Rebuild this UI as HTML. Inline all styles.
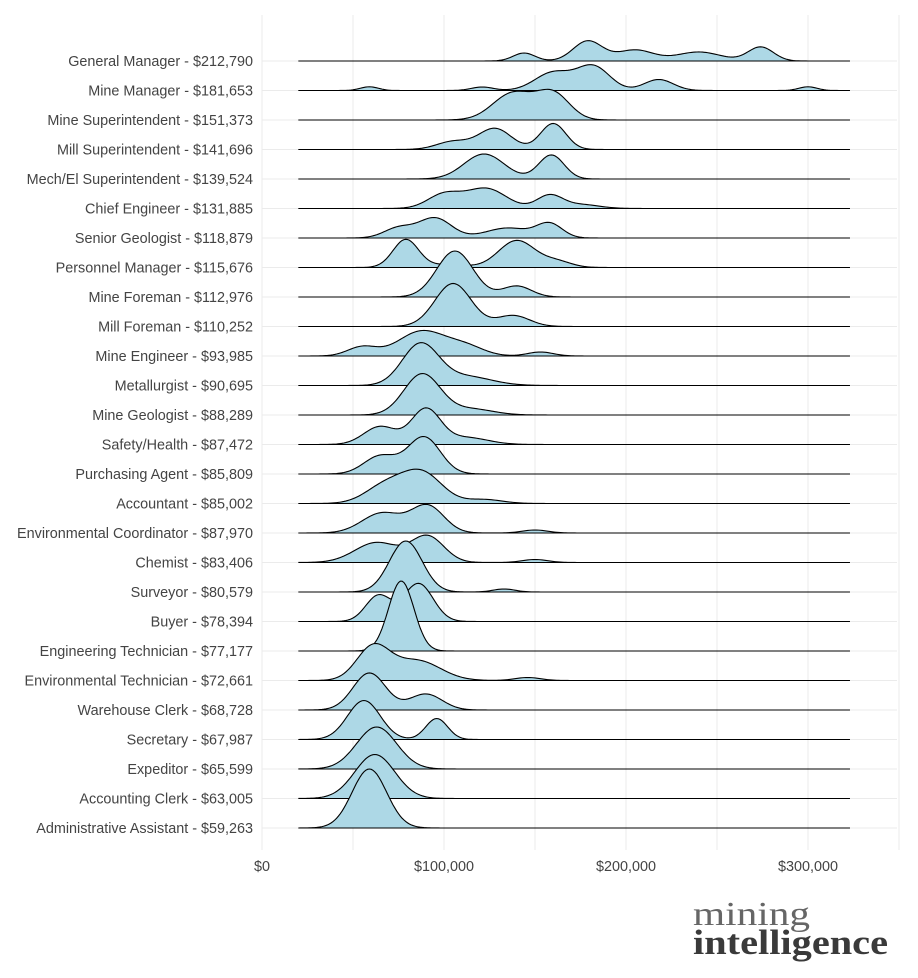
<!DOCTYPE html>
<html><head><meta charset="utf-8"><style>
html,body{margin:0;padding:0;background:#fff;}
svg{display:block;font-family:"Liberation Sans",sans-serif;}
</style></head><body>
<svg id="chart" width="918" height="978" viewBox="0 0 918 978" xmlns="http://www.w3.org/2000/svg">
<g id="grid"></g>
<g id="ridges"></g>
<g id="ylabels"></g>
<g id="xlabels"></g>
<g>
<text x="693" y="925" font-family="'Liberation Serif',serif" font-size="34" fill="#666" textLength="117" lengthAdjust="spacingAndGlyphs">mining</text>
<text x="693" y="954" font-family="'Liberation Serif',serif" font-weight="bold" font-size="35" fill="#3a3a3a" textLength="195" lengthAdjust="spacingAndGlyphs">intelligence</text>
</g>
</svg>
<script>
// Categories (top to bottom)
const categories = ["General Manager - $212,790","Mine Manager - $181,653","Mine Superintendent - $151,373","Mill Superintendent - $141,696","Mech/El Superintendent - $139,524","Chief Engineer - $131,885","Senior Geologist - $118,879","Personnel Manager - $115,676","Mine Foreman - $112,976","Mill Foreman - $110,252","Mine Engineer - $93,985","Metallurgist - $90,695","Mine Geologist - $88,289","Safety/Health - $87,472","Purchasing Agent - $85,809","Accountant - $85,002","Environmental Coordinator - $87,970","Chemist - $83,406","Surveyor - $80,579","Buyer - $78,394","Engineering Technician - $77,177","Environmental Technician - $72,661","Warehouse Clerk - $68,728","Secretary - $67,987","Expeditor - $65,599","Accounting Clerk - $63,005","Administrative Assistant - $59,263"];
// Density components per category: [mean salary in $k, spread in $k, density height]
const densityComponents = [
 [[144,6,8],[179,8,20],[205,10,11],[240,12,9],[274,7,14]],
 [[59,5,3.7],[121,6,3.5],[160,10,18],[182,9,24],[218,8,11],[300,5,3.7]],
 [[138,11,27],[160,9,26]],
 [[105,9,8],[128,9,21],[160,7,26]],
 [[122,11,25],[159,7,24]],
 [[100,9,14],[123,11,20],[158,7,13],[175,10,4]],
 [[75,8,10],[95,9,20],[135,12,10],[158,7,14]],
 [[79,7,28],[102,10,3],[140,10,27],[162,8,6]],
 [[106,10,46],[140,8,11]],
 [[105,10,43],[138,9,11]],
 [[55,8,9],[88,13,25],[112,10,9],[153,7,4]],
 [[87,10,41],[112,14,9]],
 [[88,10,41],[115,12,6]],
 [[65,9,18],[90,8,35],[112,12,7]],
 [[65,9,18],[89,9,37]],
 [[68,11,18],[88,11,30],[122,10,4]],
 [[66,11,20],[91,9,27],[150,7,3]],
 [[63,12,20],[91,9,26],[150,7,3]],
 [[79,9,51],[133,6,3]],
 [[64,7,26],[86,8,38]],
 [[76.5,7,70]],
 [[61,9,33],[85,13,20],[146,7,3]],
 [[59,9,37],[90,9,16]],
 [[56,9,39],[96,6,21]],
 [[63,11,42]],
 [[62,11,44]],
 [[59,9.5,59]]
];
const xTicks = [0,100000,200000,300000];
const xTickLabels = ["$0","$100,000","$200,000","$300,000"];
const xMinorTicks = [50000,150000,250000,350000];
const dataRange = [20000,323000];

const NS="http://www.w3.org/2000/svg";
const xScale = v => 262 + v/100000*182;
const rowY = i => 61 + i*(828-61)/26;
const hScale = d => d;
function mk(tag,attrs,parent){const e=document.createElementNS(NS,tag);for(const k in attrs)e.setAttribute(k,attrs[k]);parent.appendChild(e);return e;}

const grid=document.getElementById('grid');
categories.forEach((c,i)=>{
  const l=mk('line',{x1:262,x2:897,y1:rowY(i),y2:rowY(i),stroke:'#ebebeb','stroke-width':1},grid);
  
  
});
xTicks.concat(xMinorTicks).forEach(t=>{
  const l=mk('line',{x1:xScale(t),x2:xScale(t),y1:15,y2:850,stroke:'#ebebeb','stroke-width':1},grid);
  
  
});

const ridges=document.getElementById('ridges');
categories.forEach((c,i)=>{
  const comps=densityComponents[i];
  const base=rowY(i);
  const pts=[];
  for(let v=dataRange[0]; v<=dataRange[1]; v+=1000){
    const k=v/1000;let d=0;
    comps.forEach(([m,s,h])=>{d+=h*Math.exp(-0.5*((k-m)/s)**2);});
    pts.push([xScale(v), base-hScale(d)]);
  }
  const x0=xScale(dataRange[0]), x1=xScale(dataRange[1]);
  let p='M'+x0+','+base+' '+pts.map(q=>'L'+q[0].toFixed(1)+','+q[1].toFixed(2)).join(' ')+' L'+x1+','+base+' Z';
  const area=mk('path',{d:p,fill:'#add8e6',stroke:'none'},ridges);
  
  
  const line=mk('path',{d:'M'+pts.map(q=>q[0].toFixed(1)+','+q[1].toFixed(2)).join(' L'),fill:'none',stroke:'#000','stroke-width':1.1},ridges);
  
  
  const bl=mk('line',{x1:x0,x2:x1,y1:base,y2:base,stroke:'#000','stroke-width':1.1},ridges);
  
  
});

const yl=document.getElementById('ylabels');
categories.forEach((c,i)=>{
  const t=mk('text',{x:253,y:rowY(i)+5,'text-anchor':'end','font-size':'14.4',fill:'#444'},yl);
  t.textContent=c;
  
  
});
const xl=document.getElementById('xlabels');
xTicks.forEach((t,i)=>{
  const e=mk('text',{x:xScale(t),y:871,'text-anchor':'middle','font-size':'14.4',fill:'#444'},xl);
  e.textContent=xTickLabels[i];
  
  
});
</script>
</body></html>
